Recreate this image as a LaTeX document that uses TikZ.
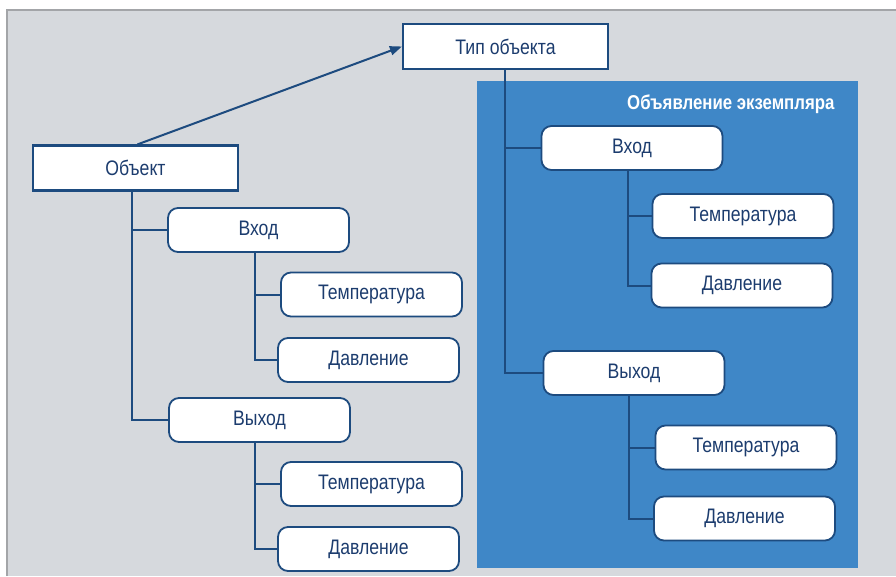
\documentclass[tikz,border=0pt]{standalone}
\usepackage{fontspec}
\setmainfont{Liberation Sans}[FakeStretch=0.84]
\usetikzlibrary{arrows.meta}
\definecolor{bggray}{HTML}{D6D9DD}
\definecolor{edgegray}{HTML}{A3A5A8}
\definecolor{panelblue}{HTML}{3F87C7}
\definecolor{linkblue}{HTML}{1D4B7F}
\definecolor{txtblue}{HTML}{1C3C6E}
\begin{document}
\begin{tikzpicture}[x=1pt,y=-1pt,
  font=\fontsize{21}{24}\selectfont,
  sqbox/.style={draw=linkblue,line width=2.2pt,fill=white,text=txtblue,inner sep=0pt,minimum width=205pt,minimum height=45pt},
  rbox/.style={draw=linkblue,line width=1.8pt,fill=white,text=txtblue,rounded corners=10pt,inner sep=0pt,minimum width=181pt,minimum height=44pt},
  link/.style={draw=linkblue,line width=2pt}]
\useasboundingbox (0,0) rectangle (896,576);
\fill[white] (0,0) rectangle (896,576);
\fill[bggray] (7,10) rectangle (896,576);
\draw[edgegray,line width=1.5pt] (7,576) -- (7,10) -- (896,10);
\fill[panelblue] (477,81) rectangle (858,568);
\node[anchor=east,text=white,font=\fontsize{20}{24}\selectfont\bfseries] (title) at (838,104) {Объявление экземпляра};
% nodes
\node[sqbox] (type) at (505.5,46.5) {Тип объекта};
\node[sqbox] (obj) at (135.5,168) {Объект};
\node[rbox] (in) at (258.5,230) {Вход};
\node[rbox] (t1) at (371.5,294.5) {Температура};
\node[rbox] (p1) at (368.5,360) {Давление};
\node[rbox] (out) at (259.5,420) {Выход};
\node[rbox] (t2) at (371.5,484) {Температура};
\node[rbox] (p2) at (368.5,549) {Давление};
\node[rbox] (rin) at (632,148) {Вход};
\node[rbox] (rt1) at (743,216) {Температура};
\node[rbox] (rp1) at (742,285.5) {Давление};
\node[rbox] (rout) at (634,373) {Выход};
\node[rbox] (rt2) at (746,447.5) {Температура};
\node[rbox] (rp2) at (744.5,518.5) {Давление};
% connectors
\draw[link,-{Triangle[length=12pt,width=9pt]}] (obj.north) ++(2,0) coordinate (os) -- (type.west);
\draw[link] (obj.south -| 132,0) |- (in.west);
\draw[link] (obj.south -| 132,0) |- (out.west);
\draw[link] (in.south -| 255,0) |- (t1.west);
\draw[link] (in.south -| 255,0) |- (p1.west);
\draw[link] (out.south -| 255,0) |- (t2.west);
\draw[link] (out.south -| 255,0) |- (p2.west);
\draw[link] (type.south -| 505,0) |- (rin.west);
\draw[link] (type.south -| 505,0) |- (rout.west);
\draw[link] (rin.south -| 628,0) |- (rt1.west);
\draw[link] (rin.south -| 628,0) |- (rp1.west);
\draw[link] (rout.south -| 629,0) |- (rt2.west);
\draw[link] (rout.south -| 629,0) |- (rp2.west);
\end{tikzpicture}
\end{document}
